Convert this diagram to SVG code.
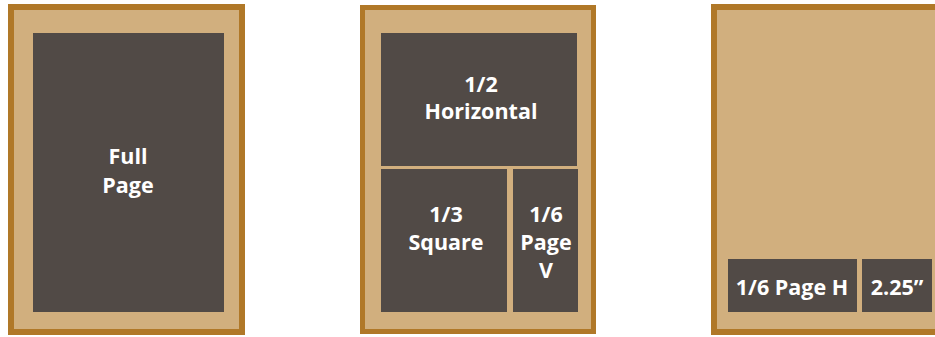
<svg xmlns="http://www.w3.org/2000/svg" width="935" height="337" viewBox="0 0 935 337">
<style>
.page{fill:#D1AF7E;stroke:#B07828;stroke-width:6}
.ad{fill:#514A46}
.t{font-family:"Open Sans","Noto Sans",sans-serif;font-weight:700;font-size:21.5px;fill:#FFFFFF;text-anchor:middle}
</style>
<rect width="935" height="337" fill="#FFFFFF"/>
<g id="page1">
<rect class="page" x="11" y="7" width="231" height="325"/>
<g id="full-page">
<rect class="ad" x="33" y="33" width="191" height="279"/>
<text class="t" x="128" y="164">Full</text>
<text class="t" x="128" y="193">Page</text>
</g>
</g>
<g id="page2">
<rect class="page" x="362.5" y="7.5" width="231" height="324" style="stroke-width:5"/>
<g id="half-horizontal">
<rect class="ad" x="381" y="33" width="196" height="133"/>
<text class="t" x="481" y="92">1/2</text>
<text class="t" x="481" y="119">Horizontal</text>
</g>
<g id="third-square">
<rect class="ad" x="381" y="169" width="126" height="143"/>
<text class="t" x="446" y="222">1/3</text>
<text class="t" x="446" y="250">Square</text>
</g>
<g id="sixth-page-v">
<rect class="ad" x="513" y="169" width="65" height="143"/>
<text class="t" x="546" y="222">1/6</text>
<text class="t" x="546" y="250">Page</text>
<text class="t" x="546" y="278">V</text>
</g>
</g>
<g id="page3">
<rect class="page" x="714" y="7" width="240" height="325"/>
<g id="sixth-page-h">
<rect class="ad" x="728" y="259" width="129" height="53"/>
<text class="t" x="792" y="295">1/6 Page H</text>
</g>
<g id="width-225">
<rect class="ad" x="862" y="259" width="70" height="53"/>
<text class="t" x="897" y="295">2.25”</text>
</g>
</g>
<g id="connectors"/>
</svg>
